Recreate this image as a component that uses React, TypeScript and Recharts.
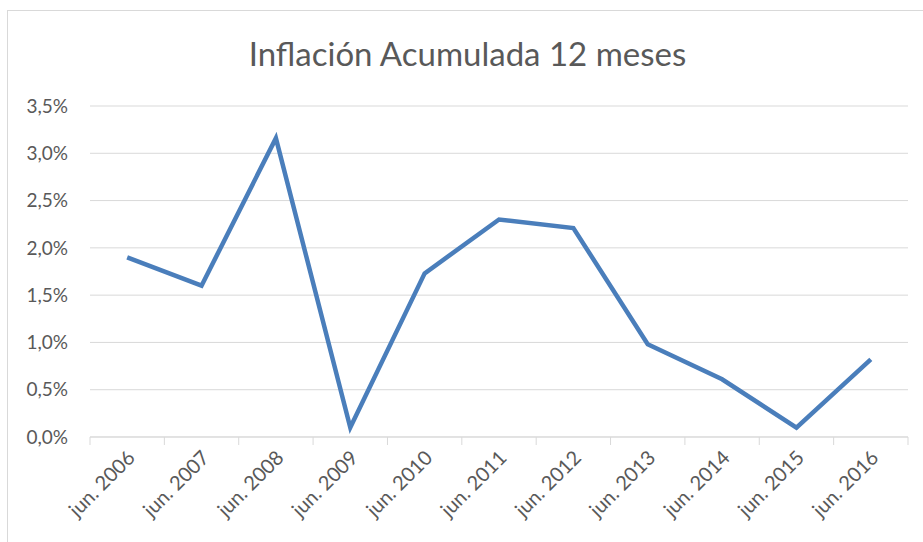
import { CartesianGrid, Line, LineChart, XAxis, YAxis } from "recharts";

const years = [
  "jun. 2006",
  "jun. 2007",
  "jun. 2008",
  "jun. 2009",
  "jun. 2010",
  "jun. 2011",
  "jun. 2012",
  "jun. 2013",
  "jun. 2014",
  "jun. 2015",
  "jun. 2016",
];
const inflacion = [1.9, 1.6, 3.16, 0.1, 1.73, 2.3, 2.21, 0.98, 0.61, 0.1, 0.82];
const yTicks = [0, 0.5, 1, 1.5, 2, 2.5, 3, 3.5];

const data = years.map((mes, i) => ({ mes, valor: inflacion[i] }));

const W = 923;
const H = 542;
const PLOT_LEFT = 90;
const PLOT_RIGHT = 908;
const STEP = (PLOT_RIGHT - PLOT_LEFT) / years.length;
const FONT = "Lato, 'Open Sans', sans-serif";
const GREY = "#595959";
const GRID = "#d9d9d9";

function fmt(v: number) {
  return v.toFixed(1).replace(".", ",") + "%";
}

function XTick(props: any) {
  const { x, y, payload, index } = props;
  const last = index === years.length - 1;
  return (
    <g>
      <line x1={x - STEP / 2} x2={x - STEP / 2} y1={y} y2={y + 8} stroke={GRID} />
      {last && (
        <line x1={x + STEP / 2} x2={x + STEP / 2} y1={y} y2={y + 8} stroke={GRID} />
      )}
      <text
        x={0}
        y={0}
        transform={`translate(${x + 9},${y + 22}) rotate(-45)`}
        textAnchor="end"
        fill={GREY}
        fontSize={20}
        fontFamily={FONT}
      >
        {payload.value}
      </text>
    </g>
  );
}

export default function App() {
  return (
    <div style={{ position: "absolute", left: 0, top: 0, width: W, height: H, background: "#fff", overflow: "hidden" }}>
      <style>{`body{margin:0;overflow:hidden}`}</style>
      <div
        style={{
          position: "absolute",
          left: 7,
          top: 10,
          width: W + 40,
          height: H + 40,
          border: "1px solid #d9d9d9",
        }}
      />
      <div
        style={{
          position: "absolute",
          left: 0,
          width: 935,
          top: 33,
          textAlign: "center",
          fontFamily: FONT,
          fontSize: 33,
          lineHeight: "40px",
          color: GREY,
        }}
      >
        Inflación Acumulada 12 meses
      </div>
      <div style={{ position: "absolute", left: 0, top: 0 }}>
        <LineChart
          width={W}
          height={H}
          data={data}
          margin={{ top: 106, right: W - PLOT_RIGHT, left: 10, bottom: 25 }}
        >
          <CartesianGrid vertical={false} stroke={GRID} strokeWidth={1} />
          <XAxis
            dataKey="mes"
            scale="band"
            height={80}
            interval={0}
            axisLine={{ stroke: GRID }}
            tickLine={false}
            tickSize={0}
            tickMargin={0}
            tick={<XTick />}
          />
          <YAxis
            width={80}
            domain={[0, 3.5]}
            ticks={yTicks}
            tickFormatter={fmt}
            axisLine={false}
            tickLine={false}
            tickSize={0}
            tickMargin={22}
            tick={{ fill: GREY, fontSize: 19, fontFamily: FONT }}
          />
          <Line
            type="linear"
            dataKey="valor"
            stroke="#4a7ebb"
            strokeWidth={4.5}
            dot={false}
            isAnimationActive={false}
          />
        </LineChart>
      </div>
    </div>
  );
}
